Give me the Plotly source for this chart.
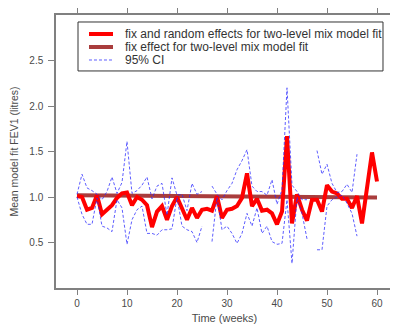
import plotly.graph_objects as go

nan = None
weeks = list(range(61))

fit_fix_random = [1.01, 1.00, 0.86, 0.88, 1.02, 0.81, 0.86, 0.91, 0.99, 1.04,
                  1.05, 0.91, 1.00, 0.97, 0.91, 0.67, 0.84, 0.90, 0.75, 0.90,
                  1.00, 0.86, 0.75, 0.88, 0.77, 0.86, 0.87, 0.85, 1.01, 0.77,
                  0.86, 0.87, 0.90, 0.99, 1.26, 0.90, 0.98, 0.85, 0.86, 0.82,
                  0.70, 0.84, 1.67, 0.71, 1.03, 0.86, 0.74, 0.97, 0.97, 0.84,
                  1.13, 1.06, 1.04, 0.98, 0.98, 0.88, 1.01, 0.71, 1.10, 1.49, 1.17]

fix_weeks = [0, 60]
fit_fix = [1.02, 0.995]

ci_upper = [1.03, 1.25, 1.10, 1.07, 1.03, 0.97, 1.06, 1.22, 1.04, 1.16,
            1.61, 1.04, 1.07, 1.13, 1.22, 0.98, 1.12, 1.15, 0.80, 1.21,
            1.02, 1.03, 0.85, 1.15, 1.03, 1.06, nan, 1.12, 1.03, 0.97,
            1.07, 1.15, 1.30, 1.40, 1.52, 1.12, 1.06, 1.06, 1.02, 1.19,
            0.92, 1.08, 2.20, 1.13, 1.06, 0.97, 0.97, nan, 1.51, 1.25,
            1.36, 1.15, 1.05, 1.06, 1.14, 1.05, 1.47, nan, nan, nan, nan]

ci_lower = [1.00, 0.81, 0.70, 0.70, 0.99, 0.68, 0.66, 0.62, 0.97, 0.88,
            0.48, 0.75, 0.86, 0.90, 0.60, 0.60, 0.58, 0.64, 0.64, 0.65,
            1.00, 0.68, 0.64, 0.62, 0.50, 0.68, nan, 0.51, 1.00, 0.64,
            0.68, 0.60, 0.49, 0.60, 0.82, 0.68, 0.88, 0.60, 0.68, 0.51,
            0.48, 0.49, 0.97, 0.27, 1.00, 0.82, 0.54, nan, 0.42, 0.42,
            0.90, 0.97, 1.00, 1.02, 0.93, 0.82, 0.57, nan, nan, nan, nan]

x_ticks = [0, 10, 20, 30, 40, 50, 60]
y_ticks = [0.5, 1.0, 1.5, 2.0, 2.5]
y_ticktext = ["0.5", "1.0", "1.5", "2.0", "2.5"]

legend_labels = ["fix and random effects for two-level mix model fit",
                 "fix effect for two-level mix model fit",
                 "95% CI"]

FONT = "Liberation Sans, Arial, sans-serif"
TXT = "#4a4a4a"
RED = "#FF0000"
DARKRED = "rgba(160,40,40,0.9)"
CI_COLOR = "rgba(40,40,255,0.75)"
AXIS = "#808080"

fig = go.Figure()

fig.add_trace(go.Scatter(
    x=fix_weeks, y=fit_fix, mode="lines", name=legend_labels[1],
    line=dict(color=DARKRED, width=4)))

fig.add_trace(go.Scatter(
    x=weeks, y=fit_fix_random, mode="lines", name=legend_labels[0],
    line=dict(color=RED, width=4)))

fig.add_trace(go.Scatter(
    x=weeks, y=ci_upper, mode="lines", name=legend_labels[2],
    line=dict(color=CI_COLOR, width=1, dash="3px,2px"), connectgaps=False))

fig.add_trace(go.Scatter(
    x=weeks, y=ci_lower, mode="lines", name=legend_labels[2] + " (lower)",
    line=dict(color=CI_COLOR, width=1, dash="3px,2px"), connectgaps=False))

# Legend drawn as a boxed key (paper coordinates) to match the compact R legend
box = dict(x0=0.0653, x1=0.9703, y0=0.795, y1=0.9744)
sample_x = (0.0979, 0.1691)
row_y = [0.9304, 0.8828, 0.8352]
text_x = 0.1988
sample_styles = [dict(color=RED, width=4),
                 dict(color=DARKRED, width=4),
                 dict(color=CI_COLOR, width=1, dash="3px,2px")]

shapes = [dict(type="rect", xref="paper", yref="paper", **box,
               line=dict(color="#333333", width=1), fillcolor="white",
               layer="above")]
annotations = []
for lbl, yy, st in zip(legend_labels, row_y, sample_styles):
    shapes.append(dict(type="line", xref="paper", yref="paper",
                       x0=sample_x[0], x1=sample_x[1], y0=yy, y1=yy,
                       line=st, layer="above"))
    annotations.append(dict(text=lbl, xref="paper", yref="paper", x=text_x, y=yy,
                            xanchor="left", yanchor="middle", showarrow=False,
                            font=dict(size=12, color="#333333")))

fig.update_layout(
    width=390, height=316,
    margin=dict(l=48, r=5, t=7, b=36),
    plot_bgcolor="white", paper_bgcolor="white",
    font=dict(family=FONT, size=10, color=TXT),
    showlegend=False,
    shapes=shapes,
    annotations=annotations,
    xaxis=dict(range=[-4.2, 63.2], tickvals=x_ticks, showgrid=False,
               zeroline=False, showline=True, linecolor=AXIS, linewidth=1.5,
               mirror="ticks", ticks="outside", ticklen=5, tickcolor=AXIS,
               title=dict(text="Time (weeks)", standoff=7,
                          font=dict(size=11, color=TXT)),
               automargin=False),
    yaxis=dict(range=[0, 3.0], tickvals=y_ticks, ticktext=y_ticktext,
               showgrid=False, zeroline=False, showline=True,
               linecolor=AXIS, linewidth=1.5, mirror=True,
               ticks="outside", ticklen=6, tickcolor=AXIS,
               ticklabelstandoff=3,
               title=dict(text="Mean model fit FEV1 (litres)", standoff=18,
                          font=dict(size=10.5, color=TXT)),
               automargin=False),
)

fig.write_html("out.html")
